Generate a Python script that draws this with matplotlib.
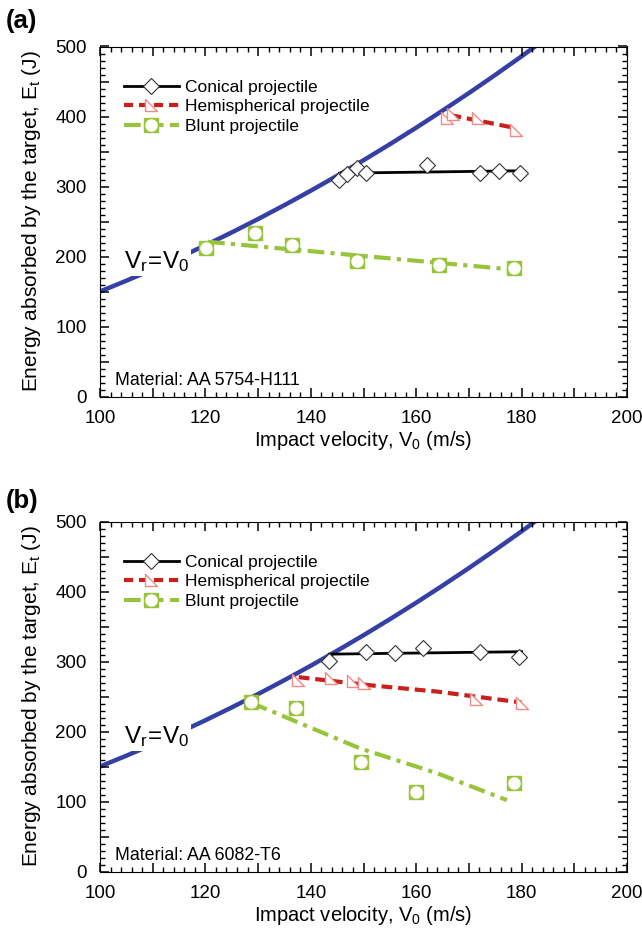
import matplotlib
matplotlib.use("Agg")
import matplotlib.pyplot as plt
from matplotlib.path import Path
from matplotlib.lines import Line2D
from matplotlib.legend_handler import HandlerTuple
from matplotlib.ticker import MultipleLocator, FuncFormatter

plt.rcParams["font.family"] = ["Liberation Sans", "DejaVu Sans"]
plt.rcParams["mathtext.fontset"] = "custom"
plt.rcParams["mathtext.rm"] = "Liberation Sans"
plt.rcParams["mathtext.it"] = "Liberation Sans"

# Vr = V0 curve (ballistic limit envelope)
curve_v = [100, 105, 110, 115, 120, 125, 130, 135, 140, 145, 150, 155, 160, 165, 170, 175, 180, 185]
curve_e = [150.0, 165.4, 181.5, 198.4, 216.0, 234.4, 253.5, 273.4, 294.0, 315.4,
           337.5, 360.4, 384.0, 408.4, 433.5, 459.4, 486.0, 513.4]

# panel (a): AA 5754-H111
cone_a_v = [145.3, 146.9, 148.7, 150.4, 162.1, 172.2, 175.8, 179.7]
cone_a_e = [310, 318, 326, 319, 331, 319, 322, 319]
cone_a_fit_v = [145.5, 180.0]
cone_a_fit_e = [319, 322.5]

hemi_a_v = [165.9, 166.9, 171.8, 179.0]
hemi_a_e = [398, 404, 398, 381]
hemi_a_fit_v = [166.5, 178.5]
hemi_a_fit_e = [402, 384]

blunt_a_v = [120.1, 129.4, 136.5, 148.7, 164.4, 178.5]
blunt_a_e = [212, 233, 217, 194, 188, 184]
blunt_a_fit_v = [120.5, 178.8]
blunt_a_fit_e = [221, 181]

# panel (b): AA 6082-T6
cone_b_v = [143.5, 150.4, 156.0, 161.2, 172.2, 179.6]
cone_b_e = [301, 313, 312, 320, 313, 306]
cone_b_fit_v = [143.5, 180.0]
cone_b_fit_e = [310.5, 314]

hemi_b_v = [137.6, 143.9, 148.1, 150.0, 171.4, 180.1]
hemi_b_e = [274, 276, 272, 270, 246, 241]
hemi_b_fit_v = [137.7, 151.3, 164.0, 180.0]
hemi_b_fit_e = [277.6, 266, 257, 241.4]

blunt_b_v = [128.7, 137.2, 149.5, 160.0, 178.5]
blunt_b_e = [242, 234, 157, 114, 127]
blunt_b_fit_v = [128.7, 149.3, 164.1, 177.2]
blunt_b_fit_e = [241, 176, 140, 102]

BLUE = "#3440a6"
RED = "#c9201c"
PINK = "#ef8a86"
GREEN = "#98c43c"

tri = Path([(-1, 1), (-1, -1), (1, -1), (-1, 1)],
           [Path.MOVETO, Path.LINETO, Path.LINETO, Path.CLOSEPOLY])


def xlab(val, pos):
    return f"{val:.0f}" if abs(val % 20) < 1e-6 else ""


def ylab(val, pos):
    return f"{val:.0f}" if abs(val % 100) < 1e-6 else ""


def setup_axes(ax):
    ax.set_xlim(100, 200)
    ax.set_ylim(0, 500)
    ax.set_axisbelow(False)
    ax.xaxis.set_major_locator(MultipleLocator(10))
    ax.xaxis.set_minor_locator(MultipleLocator(2))
    ax.yaxis.set_major_locator(MultipleLocator(50))
    ax.yaxis.set_minor_locator(MultipleLocator(10))
    ax.xaxis.set_major_formatter(FuncFormatter(xlab))
    ax.yaxis.set_major_formatter(FuncFormatter(ylab))
    ax.tick_params(which="both", direction="in", top=True, right=True,
                   labelsize=13.5, color="black")
    ax.tick_params(which="major", length=6.5, width=1.1, pad=9.5)
    ax.tick_params(which="minor", length=3.5, width=1.0)


def draw_panel(ax, cone, hemi, blunt, material):
    setup_axes(ax)

    ax.plot(curve_v, curve_e, color=BLUE, lw=3.2, zorder=2)

    ax.plot(*cone[2:], color="black", lw=2.0, zorder=3)
    ax.plot(*cone[:2], ls="none", marker="D", ms=8.5, mfc="white",
            mec="#333333", mew=0.8, zorder=5)

    ax.plot(*hemi[2:], color=RED, lw=3.0, ls=(0, (2.6, 1.4)), zorder=3)
    ax.plot(*hemi[:2], ls="none", marker=tri, ms=9, mfc="white",
            mec=PINK, mew=1.0, zorder=5)

    ax.plot(*blunt[2:], color=GREEN, lw=3.0, ls=(0, (4, 1.5, 1, 1.5)), zorder=3)
    ax.plot(*blunt[:2], ls="none", marker="s", ms=10, mfc=GREEN, mec=GREEN, zorder=5)
    ax.plot(*blunt[:2], ls="none", marker="o", ms=8, mfc="white", mec="white", zorder=6)

    ax.text(104.6, 183, r"$\mathregular{V_r\!=\!V_0}$", fontsize=17.5, zorder=4,
            bbox=dict(facecolor="white", edgecolor="none", pad=1.0))
    ax.text(102.9, 17, material, fontsize=12.8)

    ax.set_xlabel(r"Impact velocity, $\mathregular{V_0}$ (m/s)", fontsize=14.5, labelpad=2)
    ax.set_ylabel(r"Energy absorbed by the target, $\mathregular{E_t}$ (J)",
                  fontsize=15, labelpad=9)

    h_cone = Line2D([], [], color="black", lw=2.0, marker="D", ms=8.5,
                    mfc="white", mec="#333333", mew=0.8)
    h_hemi = Line2D([], [], color=RED, lw=3.0, ls=(0, (2.2, 1.4)), marker=tri,
                    ms=9, mfc="white", mec=PINK, mew=1.0)
    h_bl1 = Line2D([], [], color=GREEN, lw=3.0, ls=(0, (4, 1.5)), marker="s",
                   ms=10, mfc=GREEN, mec=GREEN)
    h_bl2 = Line2D([], [], ls="none", marker="o", ms=8, mfc="white", mec="white")
    ax.legend([h_cone, h_hemi, (h_bl1, h_bl2)],
              ["Conical projectile", "Hemispherical projectile", "Blunt projectile"],
              handler_map={tuple: HandlerTuple(ndivide=1, pad=0)},
              loc="upper left", bbox_to_anchor=(0.045, 0.905), frameon=False,
              fontsize=12.5, handlelength=3.2, handletextpad=0.35, labelspacing=0.25,
              borderaxespad=0, borderpad=0)


fig = plt.figure(figsize=(6.42, 9.39), dpi=100)
ax1 = fig.add_axes([100 / 642, 1 - 396.5 / 939, 527 / 642, 350 / 939])
ax2 = fig.add_axes([100 / 642, 1 - 871.5 / 939, 527 / 642, 350 / 939])

draw_panel(ax1,
           (cone_a_v, cone_a_e, cone_a_fit_v, cone_a_fit_e),
           (hemi_a_v, hemi_a_e, hemi_a_fit_v, hemi_a_fit_e),
           (blunt_a_v, blunt_a_e, blunt_a_fit_v, blunt_a_fit_e),
           "Material: AA 5754-H111")
draw_panel(ax2,
           (cone_b_v, cone_b_e, cone_b_fit_v, cone_b_fit_e),
           (hemi_b_v, hemi_b_e, hemi_b_fit_v, hemi_b_fit_e),
           (blunt_b_v, blunt_b_e, blunt_b_fit_v, blunt_b_fit_e),
           "Material: AA 6082-T6")

fig.text(6 / 642, 1 - 28 / 939, "(a)", fontsize=18.5, fontweight="bold")
fig.text(6 / 642, 1 - 508 / 939, "(b)", fontsize=18.5, fontweight="bold")

fig.savefig("out.png", dpi=100)
